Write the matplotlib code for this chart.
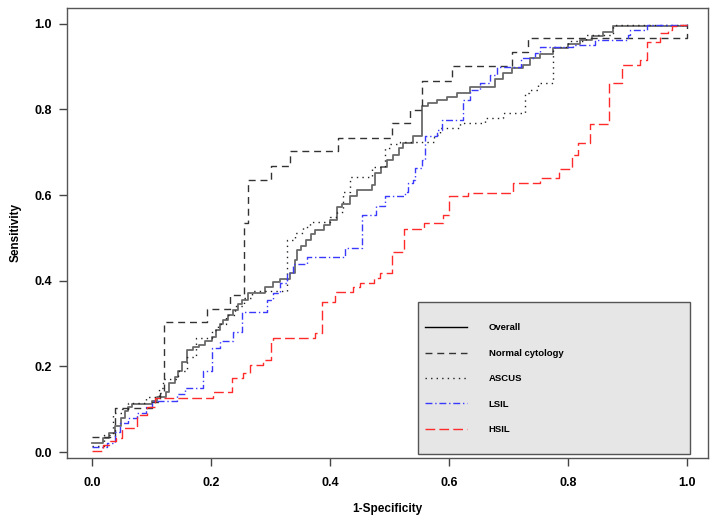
import matplotlib
matplotlib.use("Agg")
import matplotlib.pyplot as plt
from matplotlib.patches import Rectangle

plt.rcParams['font.family'] = ['Liberation Sans', 'DejaVu Sans']

# ---- data: ROC curves (1-Specificity, Sensitivity) ----
overall_x = [0.0, 0.019, 0.028, 0.039, 0.048, 0.055, 0.061, 0.068, 0.10, 0.109, 0.125, 0.13, 0.14, 0.145,
             0.152, 0.159, 0.17, 0.18, 0.19, 0.201, 0.208, 0.215, 0.22, 0.228, 0.237, 0.245, 0.252, 0.262,
             0.291, 0.304, 0.316, 0.333, 0.341, 0.345, 0.352, 0.36, 0.368, 0.375, 0.39, 0.40, 0.411, 0.42,
             0.434, 0.445, 0.47, 0.476, 0.485, 0.495, 0.506, 0.515, 0.523, 0.54, 0.554, 0.565, 0.58, 0.596,
             0.613, 0.635, 0.677, 0.691, 0.705, 0.725, 0.736, 0.753, 0.775, 0.80, 0.82, 0.84, 0.859, 0.876, 1.0]
overall_y = [0.022, 0.033, 0.045, 0.06, 0.08, 0.095, 0.106, 0.112, 0.12, 0.129, 0.14, 0.16, 0.175, 0.19,
             0.21, 0.238, 0.245, 0.25, 0.26, 0.268, 0.285, 0.30, 0.308, 0.32, 0.332, 0.345, 0.355, 0.371,
             0.386, 0.397, 0.405, 0.418, 0.449, 0.472, 0.48, 0.495, 0.508, 0.519, 0.53, 0.542, 0.573, 0.58,
             0.597, 0.612, 0.624, 0.652, 0.665, 0.682, 0.694, 0.71, 0.722, 0.737, 0.808, 0.815, 0.822, 0.83,
             0.839, 0.853, 0.871, 0.885, 0.897, 0.904, 0.92, 0.93, 0.944, 0.952, 0.962, 0.972, 0.982, 0.995, 0.995]

normal_x = [0.0, 0.039, 0.10, 0.114, 0.121, 0.193, 0.232, 0.255, 0.262, 0.30, 0.333, 0.413, 0.504, 0.534,
            0.554, 0.605, 0.705, 0.733, 1.0, 1.0]
normal_y = [0.036, 0.103, 0.117, 0.138, 0.304, 0.334, 0.367, 0.535, 0.636, 0.668, 0.703, 0.733, 0.768, 0.799,
            0.867, 0.902, 0.935, 0.966, 0.966, 1.0]

ascus_x = [0.0, 0.02, 0.036, 0.05, 0.061, 0.09, 0.112, 0.12, 0.145, 0.16, 0.175, 0.201, 0.212, 0.225, 0.24,
           0.255, 0.268, 0.327, 0.341, 0.355, 0.366, 0.40, 0.411, 0.422, 0.434, 0.47, 0.492, 0.50, 0.518,
           0.575, 0.585, 0.618, 0.66, 0.691, 0.728, 0.735, 0.75, 0.775, 0.80, 0.83, 0.876, 1.0]
ascus_y = [0.015, 0.04, 0.09, 0.10, 0.115, 0.129, 0.15, 0.17, 0.19, 0.223, 0.266, 0.285, 0.30, 0.32, 0.34,
           0.36, 0.375, 0.495, 0.512, 0.525, 0.538, 0.55, 0.561, 0.608, 0.643, 0.666, 0.71, 0.72, 0.725,
           0.74, 0.756, 0.768, 0.78, 0.791, 0.838, 0.845, 0.861, 0.947, 0.96, 0.975, 0.998, 0.998]

lsil_x = [0.0, 0.025, 0.039, 0.047, 0.06, 0.075, 0.09, 0.10, 0.142, 0.156, 0.187, 0.201, 0.215, 0.237, 0.252,
          0.294, 0.304, 0.316, 0.327, 0.338, 0.361, 0.425, 0.453, 0.478, 0.492, 0.526, 0.531, 0.54, 0.543,
          0.554, 0.56, 0.579, 0.588, 0.624, 0.635, 0.652, 0.669, 0.68, 0.72, 0.744, 0.753, 0.808, 0.845,
          0.90, 0.904, 0.932, 1.0]
lsil_y = [0.012, 0.022, 0.047, 0.067, 0.08, 0.091, 0.105, 0.12, 0.135, 0.15, 0.19, 0.243, 0.26, 0.281, 0.328,
          0.355, 0.371, 0.395, 0.418, 0.44, 0.456, 0.476, 0.554, 0.575, 0.597, 0.608, 0.628, 0.636, 0.664,
          0.682, 0.737, 0.752, 0.776, 0.822, 0.846, 0.862, 0.881, 0.90, 0.92, 0.932, 0.947, 0.951, 0.963,
          0.974, 0.986, 0.998, 0.998]

hsil_x = [0.0, 0.019, 0.03, 0.041, 0.05, 0.075, 0.092, 0.106, 0.204, 0.235, 0.254, 0.266, 0.287, 0.30, 0.304,
          0.375, 0.386, 0.408, 0.439, 0.45, 0.473, 0.484, 0.504, 0.524, 0.557, 0.59, 0.599, 0.632, 0.708,
          0.753, 0.784, 0.806, 0.817, 0.837, 0.868, 0.89, 0.921, 0.932, 0.955, 0.968, 0.975, 0.988, 1.0]
hsil_y = [0.002, 0.016, 0.025, 0.033, 0.056, 0.086, 0.106, 0.125, 0.139, 0.172, 0.184, 0.203, 0.215, 0.258,
          0.266, 0.278, 0.351, 0.374, 0.386, 0.395, 0.406, 0.418, 0.468, 0.52, 0.534, 0.554, 0.597, 0.606,
          0.629, 0.639, 0.66, 0.694, 0.721, 0.766, 0.861, 0.904, 0.916, 0.958, 0.978, 0.985, 0.994, 0.998, 0.998]

labels = ["Overall", "Normal cytology", "ASCUS", "LSIL", "HSIL"]
ticks = [0.0, 0.2, 0.4, 0.6, 0.8, 1.0]
tick_labels = ["0.0", "0.2", "0.4", "0.6", "0.8", "1.0"]

# ---- figure ----
W, H = 722, 522
fig = plt.figure(figsize=(W / 100, H / 100), dpi=100)
ax_l, ax_b, ax_w, ax_h = 67, 64, 641, 450
ax = fig.add_axes([ax_l / W, ax_b / H, ax_w / W, ax_h / H])

ax.plot(overall_x, overall_y, drawstyle='steps-post', color='#6a6a6a', lw=1.3, ls='-', label=labels[0])
ax.plot(normal_x, normal_y, drawstyle='steps-post', color='#333333', lw=1.0, ls=(0, (5, 3.5)), label=labels[1])
ax.plot(ascus_x, ascus_y, drawstyle='steps-post', color='#222222', lw=1.0, ls=(0, (1, 3)), label=labels[2])
ax.plot(lsil_x, lsil_y, drawstyle='steps-post', color='#3a3aff', lw=1.0, ls=(0, (5, 2, 1, 2)), label=labels[3])
ax.plot(hsil_x, hsil_y, drawstyle='steps-post', color='#ff2a2a', lw=1.0, ls=(0, (7, 3)), label=labels[4])

ax.set_xlim(-0.042, 1.035)
ax.set_ylim(-0.014, 1.037)
ax.set_xticks(ticks)
ax.set_xticklabels(tick_labels, fontsize=9, fontweight='bold')
ax.set_yticks(ticks)
ax.set_yticklabels(tick_labels, fontsize=9, fontweight='bold')
ax.tick_params(axis='x', direction='out', length=6, width=1, color='#444444', pad=8)
ax.tick_params(axis='y', direction='out', length=6, width=1, color='#444444', pad=5)
for s in ax.spines.values():
    s.set_color('#555555')
    s.set_linewidth(1.0)

ax.set_xlabel("1-Specificity", fontsize=8.5, fontweight='bold', labelpad=10)
ax.set_ylabel("Sensitivity", fontsize=8.5, fontweight='bold', labelpad=9)

box_x0, box_x1, box_top, box_bot = 418, 690, 301.7, 454
box = Rectangle(((box_x0 - ax_l) / ax_w, ((H - ax_b) - box_bot) / ax_h),
                (box_x1 - box_x0) / ax_w, (box_bot - box_top) / ax_h,
                transform=ax.transAxes, facecolor='#e6e6e6', edgecolor='#555555',
                linewidth=1.0, zorder=4.5)
ax.add_patch(box)

leg = ax.legend(loc='upper left',
                bbox_to_anchor=((box_x0 - ax_l) / ax_w, ((H - ax_b) - 316.8) / ax_h),
                prop={'weight': 'bold', 'size': 6.8},
                handlelength=4.5, handletextpad=2.3, labelspacing=1.74, borderpad=0.7,
                borderaxespad=0, frameon=False)
leg.set_zorder(5)
leg.get_lines()[0].set_color('black')
leg.get_lines()[0].set_linewidth(1.0)

fig.savefig("out.png", dpi=100)
